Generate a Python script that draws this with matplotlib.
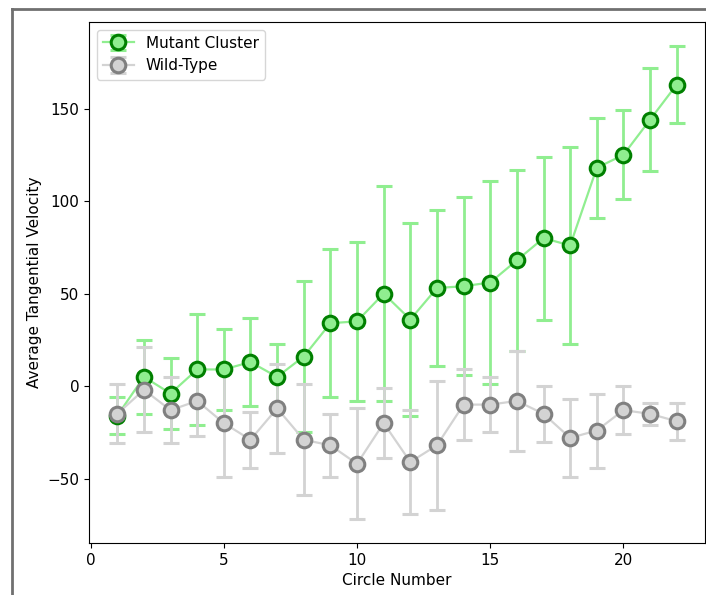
import matplotlib
matplotlib.use("Agg")
import matplotlib.pyplot as plt
from matplotlib.lines import Line2D

circles = list(range(1, 23))

mutant_mean = [-16, 5, -4, 9, 9, 13, 5, 16, 34, 35, 50, 36, 53, 54, 56, 68, 80, 76, 118, 125, 144, 163]
mutant_err = [10, 20, 19, 30, 22, 24, 18, 41, 40, 43, 58, 52, 42, 48, 55, 49, 44, 53, 27, 24, 28, 21]

wild_mean = [-15, -2, -13, -8, -20, -29, -12, -29, -32, -42, -20, -41, -32, -10, -10, -8, -15, -28, -24, -13, -15, -19]
wild_err = [16, 23, 18, 19, 29, 15, 24, 30, 17, 30, 19, 28, 35, 19, 15, 27, 15, 21, 20, 13, 6, 10]

fig = plt.figure(figsize=(7.06, 5.95), dpi=100)
ax = fig.add_axes([89.3 / 706, 1 - 543 / 595, 615.4 / 706, 521 / 595])

ax.errorbar(circles, mutant_mean, yerr=mutant_err, fmt="-o",
            color="lightgreen", ecolor="lightgreen", elinewidth=2,
            capsize=5.5, capthick=2, lw=1.6,
            markersize=10.5, markerfacecolor="lightgreen",
            markeredgecolor="green", markeredgewidth=2.2,
            label="Mutant Cluster")
ax.errorbar(circles, wild_mean, yerr=wild_err, fmt="-o",
            color="lightgray", ecolor="lightgray", elinewidth=2,
            capsize=5.5, capthick=2, lw=1.6,
            markersize=10.5, markerfacecolor="lightgray",
            markeredgecolor="gray", markeredgewidth=2.2,
            label="Wild-Type")

ax.set_xlabel("Circle Number", fontsize=11)
ax.set_ylabel("Average Tangential Velocity", fontsize=11)
ax.tick_params(labelsize=11)
ax.set_xticks([0, 5, 10, 15, 20])
ax.legend(loc="upper left", fontsize=11)

# Border line framing the figure on the top and left
frame_kw = dict(color="#707070", lw=2, transform=fig.transFigure)
fig.add_artist(Line2D([12 / 706, 12 / 706], [0, 1 - 9 / 595], **frame_kw))
fig.add_artist(Line2D([12 / 706, 1], [1 - 9 / 595, 1 - 9 / 595], **frame_kw))

fig.savefig("out.png", dpi=100)
